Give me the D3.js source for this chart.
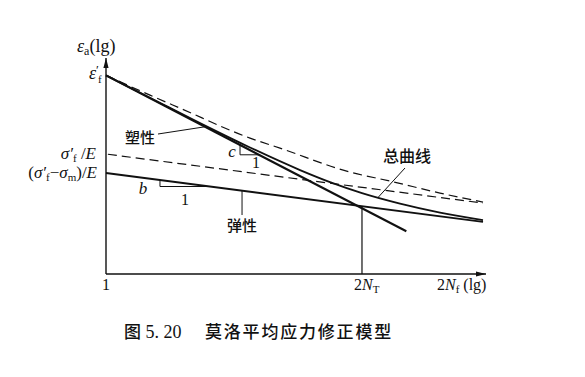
<!DOCTYPE html>
<html>
<head>
<meta charset="utf-8">
<script src="https://cdn.jsdelivr.net/npm/d3@7"></script>
<style>
  body { margin: 0; background: #fff; }
  .serif { font-family: "Liberation Serif", "DejaVu Serif", serif; }
  .cjk { font-family: "Noto Sans CJK SC", sans-serif; font-weight: 500; }
</style>
</head>
<body>
<div id="chart"></div>
<script>
// lg(2Nf) on x, lg(eps_a) on y
let plastic = [[0, -0.37], [4.78, -3.69]]
let elastic = [[0, -2.45], [6, -3.49]]
let elasticNoMean = [[0.03, -2.05], [6, -3.09]]
let totalCurve = [[0, -0.37], [0.70, -0.845], [1.496, -1.387], [2.292, -1.906], [3.088, -2.387],
                  [3.565, -2.643], [4.074, -2.877], [4.679, -3.10], [5.316, -3.291], [6, -3.451]]
let totalNoMean = [[0, -0.37], [0.70, -0.791], [1.178, -1.068], [2.292, -1.706], [2.769, -1.919],
                   [3.883, -2.43], [4.52, -2.621], [5.316, -2.877], [6, -3.068]]
let NT = 4.074

let width = 585, height = 377

let svg = d3.select("#chart").append("svg")
    .attr("width", width)
    .attr("height", height)

let x = d3.scaleLinear().domain([0, 6]).range([106, 483])
let y = d3.scaleLinear().domain([-4.6, 0]).range([274, 58])

// value of a two point line at xv
function lineAt(arr, xv) {
    let t = (xv - arr[0][0]) / (arr[arr.length - 1][0] - arr[0][0])
    return arr[0][1] + t * (arr[arr.length - 1][1] - arr[0][1])
}

svg.append("defs").append("marker")
    .attr("id", "arrow")
    .attr("viewBox", "0 -3 10 6")
    .attr("refX", 10)
    .attr("refY", 0)
    .attr("markerUnits", "userSpaceOnUse")
    .attr("markerWidth", 10)
    .attr("markerHeight", 6)
    .attr("orient", "auto")
    .append("path")
    .attr("d", "M0,-2.6 L10,0 L0,2.6 Z")
    .attr("fill", "#111")

// axes
svg.append("line")
    .attr("x1", x(0)).attr("y1", y(-4.6))
    .attr("x2", x(0)).attr("y2", y(0))
    .attr("stroke", "#111").attr("stroke-width", 1.4)
    .attr("marker-end", "url(#arrow)")
svg.append("line")
    .attr("x1", x(0)).attr("y1", y(-4.6))
    .attr("x2", x(6) + 3).attr("y2", y(-4.6))
    .attr("stroke", "#111").attr("stroke-width", 1.4)
    .attr("marker-end", "url(#arrow)")

let straight = d3.line().x(d => x(d[0])).y(d => y(d[1]))
let smooth = d3.line().x(d => x(d[0])).y(d => y(d[1])).curve(d3.curveMonotoneX)

// dashed (no mean stress)
svg.append("path").attr("d", straight(elasticNoMean))
    .attr("fill", "none").attr("stroke", "#111").attr("stroke-width", 1.2)
    .attr("stroke-dasharray", "9,5")
svg.append("path").attr("d", smooth(totalNoMean))
    .attr("fill", "none").attr("stroke", "#111").attr("stroke-width", 1.2)
    .attr("stroke-dasharray", "9,5")

// solid lines
svg.append("path").attr("d", straight(elastic))
    .attr("fill", "none").attr("stroke", "#111").attr("stroke-width", 2)
svg.append("path").attr("d", straight(plastic))
    .attr("fill", "none").attr("stroke", "#111").attr("stroke-width", 2.1)
svg.append("path").attr("d", smooth(totalCurve))
    .attr("fill", "none").attr("stroke", "#111").attr("stroke-width", 1.8)

// 2N_T drop line
svg.append("line")
    .attr("x1", x(NT)).attr("y1", y(-4.6))
    .attr("x2", x(NT)).attr("y2", y(lineAt(elastic, NT)))
    .attr("stroke", "#111").attr("stroke-width", 1.2)

// slope triangles
function slopeTri(arr, x1, x2) {
    let p = d3.path()
    p.moveTo(x(x1), y(lineAt(arr, x1)))
    p.lineTo(x(x1), y(lineAt(arr, x2)))
    p.lineTo(x(x2), y(lineAt(arr, x2)))
    svg.append("path").attr("d", p.toString())
        .attr("fill", "none").attr("stroke", "#111").attr("stroke-width", 1)
}
slopeTri(plastic, 2.133, 2.435)
slopeTri(elastic, 0.859, 1.655)

// leaders
let leader = (x1, y1, x2, y2) => svg.append("line")
    .attr("x1", x1).attr("y1", y1).attr("x2", x2).attr("y2", y2)
    .attr("stroke", "#111").attr("stroke-width", 1)
leader(158, 134, x(1.576), y(lineAt(plastic, 1.576)))
leader(x(2.165), y(lineAt(elastic, 2.165)), x(2.165), 215)
leader(405, 168, x(4.329), y(-2.971))

// labels
let text = (cls, tx, ty, anchor, size, str) => svg.append("text")
    .attr("class", cls).attr("x", tx).attr("y", ty)
    .attr("text-anchor", anchor).attr("font-size", size).attr("fill", "#111")
    .text(str)

text("cjk", 155, 143, "end", 15, "塑性")
text("cjk", x(2.165), 231, "middle", 15, "弹性")
text("cjk", 383, 162, "start", 16, "总曲线")

text("serif", 232, 157, "middle", 17, "c").attr("font-style", "italic")
text("serif", 143, 194, "middle", 17, "b").attr("font-style", "italic")
text("serif", 256, 168, "middle", 16, "1")
text("serif", 185, 205, "middle", 16, "1")

// y axis title
let yt = svg.append("text").attr("class", "serif").attr("x", 77).attr("y", 52)
    .attr("font-size", 18).attr("fill", "#111")
yt.append("tspan").attr("font-style", "italic").text("ε")
yt.append("tspan").attr("font-size", 12).attr("dy", 3).text("a")
yt.append("tspan").attr("dy", -3).text("(lg)")

// eps_f'
let ef = svg.append("text").attr("class", "serif").attr("x", 89).attr("y", y(plastic[0][1]) + 4)
    .attr("font-size", 18).attr("fill", "#111")
ef.append("tspan").attr("font-style", "italic").text("ε")
ef.append("tspan").attr("font-size", 13).attr("dy", -5).text("′")
ef.append("tspan").attr("font-size", 11).attr("dx", -1).attr("dy", 9).text("f")

// sigma_f'/E
let sf = svg.append("text").attr("class", "serif").attr("x", 96).attr("y", y(elasticNoMean[0][1]) + 5)
    .attr("font-size", 17).attr("fill", "#111").attr("text-anchor", "end")
sf.append("tspan").attr("font-style", "italic").text("σ′")
sf.append("tspan").attr("font-size", 11).attr("dy", 3).text("f")
sf.append("tspan").attr("dy", -3).text(" /")
sf.append("tspan").attr("font-style", "italic").text("E")

// (sigma_f' - sigma_m)/E
let sm = svg.append("text").attr("class", "serif").attr("x", 97).attr("y", y(elastic[0][1]) + 5)
    .attr("font-size", 17).attr("fill", "#111").attr("text-anchor", "end")
sm.append("tspan").text("(")
sm.append("tspan").attr("font-style", "italic").text("σ′")
sm.append("tspan").attr("font-size", 11).attr("dy", 3).text("f")
sm.append("tspan").attr("dy", -3).text("−")
sm.append("tspan").attr("font-style", "italic").text("σ")
sm.append("tspan").attr("font-size", 11).attr("dy", 3).text("m")
sm.append("tspan").attr("dy", -3).text(")/")
sm.append("tspan").attr("font-style", "italic").text("E")

// x labels
text("serif", x(0), 290, "middle", 16, "1")
let nt = svg.append("text").attr("class", "serif").attr("x", x(NT) - 8).attr("y", 290)
    .attr("font-size", 16).attr("fill", "#111")
nt.append("tspan").text("2")
nt.append("tspan").attr("font-style", "italic").text("N")
nt.append("tspan").attr("font-size", 11).attr("dy", 3).text("T")
let nf = svg.append("text").attr("class", "serif").attr("x", 437).attr("y", 290)
    .attr("font-size", 16).attr("fill", "#111")
nf.append("tspan").text("2")
nf.append("tspan").attr("font-style", "italic").text("N")
nf.append("tspan").attr("font-size", 11).attr("dy", 3).text("f")
nf.append("tspan").attr("dy", -3).text(" (lg)")

// caption
let cap = svg.append("text").attr("x", 124).attr("y", 338)
    .attr("font-size", 17).attr("fill", "#111")
cap.append("tspan").attr("class", "cjk").text("图")
cap.append("tspan").attr("class", "serif").attr("font-size", 18).text(" 5. 20")
cap.append("tspan").attr("class", "cjk").attr("x", 205).attr("letter-spacing", 1.8)
    .text("莫洛平均应力修正模型")
</script>
</body>
</html>
